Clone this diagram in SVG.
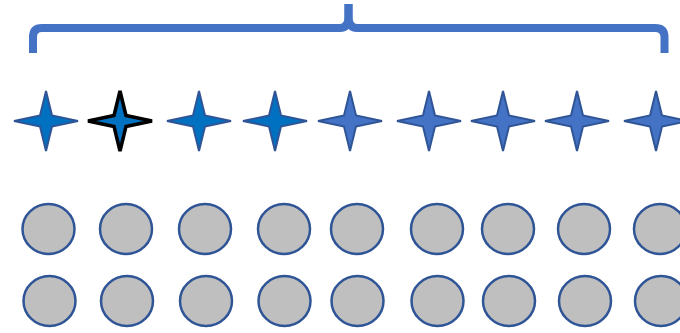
<svg xmlns="http://www.w3.org/2000/svg" xmlns:xlink="http://www.w3.org/1999/xlink" width="680" height="333" viewBox="0 0 680 333">
<style>
.brace{fill:none;stroke:#4472C4;stroke-width:8;stroke-linejoin:round}
.sA{fill:#0070C0;stroke:#2F5597;stroke-width:2}
.sB{fill:#0070C0;stroke:#000000;stroke-width:3.5}
.sC{fill:#4472C4;stroke:#2F5597;stroke-width:2}
.c{fill:#BFBFBF;stroke:#2F5597;stroke-width:2.5}
</style>
<defs>
<path id="star" d="M0,-30 L6,-5.5 L32,0 L6,5.5 L0,30 L-6,5.5 L-32,0 L-6,-5.5 Z"/>
</defs>
<g id="brace">
<path class="brace" d="M33,53 L33,37 Q33,28 42,28 L340,28 Q348.5,28 348.5,16 L348.5,4"/>
<path class="brace" d="M348.5,4 L348.5,16 Q348.5,28 357,28 L655,28 Q664.5,28 664.5,37 L664.5,53"/>
</g>
<g id="stars">
<g id="star1"><use xlink:href="#star" class="sA" x="46" y="121"/></g>
<g id="star2"><use xlink:href="#star" class="sB" x="120" y="121"/></g>
<g id="star3"><use xlink:href="#star" class="sA" x="199" y="121"/></g>
<g id="star4"><use xlink:href="#star" class="sA" x="275" y="121"/></g>
<g id="star5"><use xlink:href="#star" class="sC" x="350" y="121"/></g>
<g id="star6"><use xlink:href="#star" class="sC" x="429" y="121"/></g>
<g id="star7"><use xlink:href="#star" class="sC" x="503" y="121"/></g>
<g id="star8"><use xlink:href="#star" class="sC" x="577" y="121"/></g>
<g id="star9"><use xlink:href="#star" class="sC" x="656" y="121"/></g>
</g>
<g id="row1">
<g id="c1-1"><ellipse class="c" cx="48.5" cy="229" rx="26" ry="25"/></g>
<g id="c1-2"><ellipse class="c" cx="126" cy="229" rx="26" ry="25"/></g>
<g id="c1-3"><ellipse class="c" cx="205" cy="229" rx="26" ry="25"/></g>
<g id="c1-4"><ellipse class="c" cx="284" cy="229" rx="26" ry="25"/></g>
<g id="c1-5"><ellipse class="c" cx="357" cy="229" rx="26" ry="25"/></g>
<g id="c1-6"><ellipse class="c" cx="437" cy="229" rx="26" ry="25"/></g>
<g id="c1-7"><ellipse class="c" cx="508" cy="229" rx="26" ry="25"/></g>
<g id="c1-8"><ellipse class="c" cx="584" cy="229" rx="26" ry="25"/></g>
<g id="c1-9"><ellipse class="c" cx="660" cy="229" rx="26" ry="25"/></g>
</g>
<g id="row2">
<g id="c2-1"><ellipse class="c" cx="49.5" cy="301" rx="26" ry="25"/></g>
<g id="c2-2"><ellipse class="c" cx="127" cy="301" rx="26" ry="25"/></g>
<g id="c2-3"><ellipse class="c" cx="206" cy="301" rx="26" ry="25"/></g>
<g id="c2-4"><ellipse class="c" cx="284.5" cy="301" rx="26" ry="25"/></g>
<g id="c2-5"><ellipse class="c" cx="357.5" cy="301" rx="26" ry="25"/></g>
<g id="c2-6"><ellipse class="c" cx="437.5" cy="301" rx="26" ry="25"/></g>
<g id="c2-7"><ellipse class="c" cx="509" cy="301" rx="26" ry="25"/></g>
<g id="c2-8"><ellipse class="c" cx="585" cy="301" rx="26" ry="25"/></g>
<g id="c2-9"><ellipse class="c" cx="661" cy="301" rx="26" ry="25"/></g>
</g>
</svg>
